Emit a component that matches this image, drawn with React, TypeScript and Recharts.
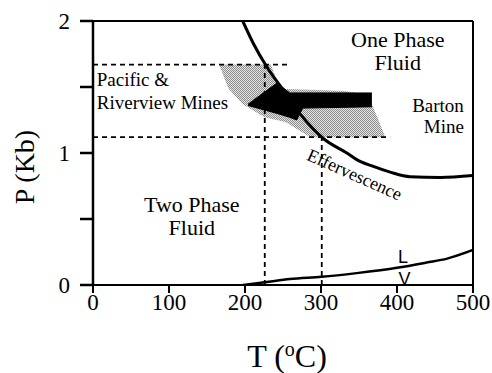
import React from "react";
import { ComposedChart, Line, Area, XAxis, YAxis, ReferenceLine, ReferenceDot, Label } from "recharts";

// axis ticks
const xTicks = [0, 100, 200, 300, 400, 500];
const yTicks = [0, 0.5, 1, 1.5, 2];

// effervescence (solvus) curve, T in °C, P in kb
const effervescence = [
  { T: 197, P: 2.0 },
  { T: 211, P: 1.83 },
  { T: 229, P: 1.65 },
  { T: 250, P: 1.48 },
  { T: 272, P: 1.3 },
  { T: 303, P: 1.11 },
  { T: 334, P: 1.0 },
  { T: 347, P: 0.95 },
  { T: 368, P: 0.9 },
  { T: 391, P: 0.855 },
  { T: 417, P: 0.82 },
  { T: 457, P: 0.815 },
  { T: 500, P: 0.83 },
];

// liquid-vapour boundary
const liquidVapour = [
  { T: 197, P: 0 },
  { T: 226, P: 0.02 },
  { T: 259, P: 0.045 },
  { T: 301, P: 0.062 },
  { T: 347, P: 0.09 },
  { T: 400, P: 0.13 },
  { T: 439, P: 0.17 },
  { T: 466, P: 0.2 },
  { T: 500, P: 0.265 },
];

// Pacific & Riverview bracket (dashed)
const pacificTop = [{ T: 0, P: 1.67 }, { T: 259, P: 1.67 }];
const pacificBottom = [{ T: 0, P: 1.12 }, { T: 391, P: 1.12 }];
const pacificLowT = [{ T: 226, P: 0 }, { T: 226, P: 1.67 }];
const pacificHighT = [{ T: 301, P: 0 }, { T: 301, P: 1.12 }];

// shaded field of fluid inclusion data, [low, high] P
const inclusionField = [
  { T: 167, P: [1.655, 1.67] },
  { T: 178, P: [1.49, 1.67] },
  { T: 197, P: [1.37, 1.67] },
  { T: 226, P: [1.27, 1.67] },
  { T: 234, P: [1.26, 1.67] },
  { T: 246, P: [1.245, 1.49] },
  { T: 255, P: [1.23, 1.485] },
  { T: 286, P: [1.12, 1.48] },
  { T: 332, P: [1.12, 1.47] },
  { T: 362, P: [1.12, 1.44] },
  { T: 384, P: [1.12, 1.13] },
];

// Barton -> Pacific arrow outline, [low, high] P
const arrow = [
  { T: 204, P: [1.36, 1.37] },
  { T: 242, P: [1.3, 1.53] },
  { T: 259, P: [1.27, 1.455] },
  { T: 268, P: [1.25, 1.455] },
  { T: 276, P: [1.34, 1.455] },
  { T: 367, P: [1.35, 1.455] },
];

const SERIF = "Liberation Serif, Times New Roman, serif";
const SANS = "Liberation Sans, Arial, sans-serif";

function note(lines: string[], size: number, anchor: "start" | "middle" | "end", gap: number, font = SERIF) {
  return (p: any) => (
    <text x={p.cx} y={p.cy} textAnchor={anchor} fontSize={size} fontFamily={font} fill="#000">
      {lines.map((l, i) => (
        <tspan key={i} x={p.cx} dy={i === 0 ? 0 : gap}>
          {l}
        </tspan>
      ))}
    </text>
  );
}

export default function App() {
  return (
    <div style={{ position: "absolute", left: 0, top: 0, background: "#fff" }}>
      <ComposedChart width={492} height={373} margin={{ top: 21, right: 19, bottom: 0, left: 0 }}>
        <defs>
          <pattern id="stipple" width="2" height="2" patternUnits="userSpaceOnUse">
            <rect width="2" height="2" fill="#e4e4e4" />
            <rect width="1" height="1" fill="#8c8c8c" />
            <rect x="1" y="1" width="1" height="1" fill="#8c8c8c" />
          </pattern>
        </defs>
        <XAxis
          dataKey="T"
          type="number"
          domain={[0, 500]}
          ticks={xTicks}
          allowDataOverflow
          height={88}
          tickSize={8}
          tickMargin={1}
          stroke="#000"
          strokeWidth={2}
          tick={{ fill: "#000", fontSize: 23, fontFamily: SERIF }}
          label={
            <Label
              content={(props: any) => {
                const vb = props.viewBox;
                const cx = vb.x + vb.width / 2 + 4;
                return (
                  <text x={cx} y={vb.y + vb.height - 6} textAnchor="middle" fontSize={32} fontFamily={SERIF} fill="#000">
                    <tspan>T (</tspan>
                    <tspan dy={-11} fontSize={20}>o</tspan>
                    <tspan dy={11}>C)</tspan>
                  </text>
                );
              }}
            />
          }
        />
        <YAxis
          type="number"
          domain={[0, 2]}
          ticks={yTicks}
          allowDataOverflow
          width={93}
          tickSize={13}
          tickMargin={10}
          stroke="#000"
          strokeWidth={2.5}
          tickFormatter={(v: number) => (Number.isInteger(v) ? String(v) : "")}
          tick={{ fill: "#000", fontSize: 23, fontFamily: SERIF }}
          label={
            <Label
              content={(props: any) => {
                const vb = props.viewBox;
                const x = vb.x + 24;
                const y = vb.y + vb.height / 2 + 14;
                return (
                  <text
                    transform={`translate(${x},${y}) rotate(-90)`}
                    textAnchor="middle"
                    dominantBaseline="central"
                    fontSize={28}
                    fontFamily={SERIF}
                    fill="#000"
                  >
                    P (Kb)
                  </text>
                );
              }}
            />
          }
        />
        <ReferenceLine y={2} stroke="#000" strokeWidth={2} />
        <ReferenceLine x={500} stroke="#000" strokeWidth={2} />

        <Area
          data={inclusionField}
          dataKey="P"
          type="linear"
          stroke="none"
          fill="url(#stipple)"
          fillOpacity={1}
          dot={false}
          activeDot={false}
          isAnimationActive={false}
        />

        {[pacificTop, pacificBottom, pacificLowT, pacificHighT].map((d, i) => (
          <Line
            key={i}
            data={d}
            dataKey="P"
            type="linear"
            stroke="#000"
            strokeWidth={1.8}
            strokeDasharray="5 4"
            dot={false}
            activeDot={false}
            isAnimationActive={false}
          />
        ))}

        <Area
          data={arrow}
          dataKey="P"
          type="linear"
          stroke="#000"
          strokeWidth={1}
          fill="#000"
          fillOpacity={1}
          dot={false}
          activeDot={false}
          isAnimationActive={false}
        />

        <Line
          data={effervescence}
          dataKey="P"
          type="monotone"
          stroke="#000"
          strokeWidth={3}
          dot={false}
          activeDot={false}
          isAnimationActive={false}
        />
        <Line
          data={liquidVapour}
          dataKey="P"
          type="monotone"
          stroke="#000"
          strokeWidth={2.5}
          dot={false}
          activeDot={false}
          isAnimationActive={false}
        />

        <ReferenceDot x={401} y={1.8} r={0} shape={note(["One Phase", "Fluid"], 22, "middle", 22.5)} />
        <ReferenceDot x={488} y={1.31} r={0} shape={note(["Barton", "Mine"], 19, "end", 21)} />
        <ReferenceDot x={5} y={1.51} r={0} shape={note(["Pacific &", "Riverview Mines"], 19, "start", 23)} />
        <ReferenceDot x={130} y={0.553} r={0} shape={note(["Two Phase", "Fluid"], 22, "middle", 23)} />
        <ReferenceDot x={408} y={0.167} r={0} shape={note(["L"], 18, "middle", 0, SANS)} />
        <ReferenceDot x={410} y={0} r={0} ifOverflow="visible" shape={note(["V"], 18, "middle", 0, SANS)} />
        <ReferenceDot
          x={341}
          y={0.795}
          r={0}
          shape={(p: any) => (
            <text
              x={p.cx}
              y={p.cy}
              transform={`rotate(24 ${p.cx} ${p.cy})`}
              textAnchor="middle"
              fontSize={18}
              fontFamily={SERIF}
              fill="#000"
            >
              Effervescence
            </text>
          )}
        />
      </ComposedChart>
    </div>
  );
}
